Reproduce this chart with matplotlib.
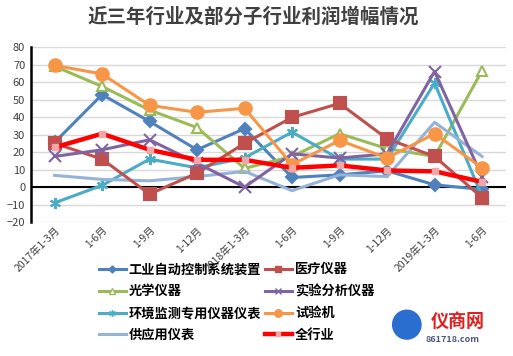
import matplotlib.pyplot as plt
from matplotlib.lines import Line2D
from matplotlib.patches import Ellipse

plt.rcParams['font.family'] = ['Noto Sans CJK SC', 'DejaVu Sans']

categories = ['2017年1-3月', '1-6月', '1-9月', '1-12月', '2018年1-3月',
              '1-6月', '1-9月', '1-12月', '2019年1-3月', '1-6月']

auto_ctrl = [25.5, 52.8, 37.5, 21.3, 33.4, 5.5, 7, 9.3, 1.3, -1.3]
medical = [25, 16, -4, 8, 25, 39.8, 47.8, 27.6, 17.5, -6]
optical = [69, 57.5, 44, 34, 10.7, 17.5, 30.5, 22, 17.5, 66.5]
lab = [17.5, 21.3, 27, 13.7, 0, 19, 16.6, 19, 66, 6]
environ = [-9, 1, 16, 11, 16.7, 31.4, 16, 16, 59.4, -5.3]
testing = [69.5, 64.6, 46.7, 42.7, 45, 12.8, 26.7, 16.6, 30.5, 11]
supply = [6.7, 4.4, 3.6, 6, 9, -2, 7, 6, 37, 17.5]
industry = [22.7, 30.5, 21.3, 15.6, 15.6, 11, 12.4, 9.5, 9, 3]

series = [
    ('工业自动控制系统装置', auto_ctrl, '#4F81BD', 'D', 6, '#4F81BD'),
    ('光学仪器', optical, '#9BBB59', '^', 7, 'white'),
    ('环境监测专用仪器仪表', environ, '#4BACC6', (6, 2, 0), 8, '#4BACC6'),
    ('供应用仪表', supply, '#95B3D7', None, 0, None),
    ('医疗仪器', medical, '#C0504D', 's', 8, '#C0504D'),
    ('实验分析仪器', lab, '#8064A2', 'x', 8, '#8064A2'),
    ('试验机', testing, '#F79646', 'o', 9, '#F79646'),
]

fig = plt.figure(figsize=(5.13, 3.56), dpi=100)
ax = fig.add_axes([0.060, 0.376, 0.926, 0.492])
x = list(range(len(categories)))

handles = []
for name, vals, color, marker, ms, mfc in series:
    ax.plot(x, vals, color=color, lw=2.2, marker=marker, markersize=ms,
            markerfacecolor=mfc, markeredgecolor=color, markeredgewidth=1.5, zorder=3)
    # smaller markers in the legend, like the original
    handles.append(Line2D([], [], color=color, lw=2.2, marker=marker, markersize=ms * 0.6,
                          markerfacecolor=mfc, markeredgecolor=color,
                          markeredgewidth=1.0, label=name))

ax.plot(x, industry, color='#FF0000', lw=3.2, marker='s', markersize=4,
        markerfacecolor='#F4A6A6', markeredgecolor='#F4A6A6', zorder=4)
handles.append(Line2D([], [], color='#FF0000', lw=3.2, marker='s', markersize=3,
                      markerfacecolor='#F4A6A6', markeredgecolor='#F4A6A6', label='全行业'))

ax.set_xlim(-0.5, 9.5)
ax.set_ylim(-20, 80)
ax.set_yticks(range(-20, 81, 10))
ax.grid(axis='y', color='#D9D9D9', lw=1)
ax.set_axisbelow(True)
ax.axhline(0, color='black', lw=1.5, zorder=2)
for s in ['top', 'right', 'bottom']:
    ax.spines[s].set_visible(False)
ax.spines['left'].set_linewidth(1.8)
ax.tick_params(axis='y', length=0, labelsize=8, labelcolor='#404040', pad=4)
ax.tick_params(axis='x', length=0, labelsize=7.5, labelcolor='#404040', pad=2)
ax.set_xticks(x)
ax.set_xticklabels(categories, rotation=45, ha='right', rotation_mode='anchor')

fig.text(0.493, 0.952, '近三年行业及部分子行业利润增幅情况', ha='center', va='center',
         fontsize=14, fontweight='bold', color='#404040')

fig.legend(handles=handles, loc='upper left', bbox_to_anchor=(0.183, 0.278),
           ncol=2, frameon=False, prop={'size': 9.5, 'weight': 'bold'},
           handlelength=2.0, columnspacing=0.3, labelspacing=0.6,
           handletextpad=0.25, borderaxespad=0)

# watermark logo
fig.patches.append(Ellipse((0.793, 0.088), 0.058, 0.085, transform=fig.transFigure,
                           facecolor='#2A6FD0', edgecolor='none'))
fig.text(0.893, 0.098, '仪商网', ha='center', va='center', fontsize=13,
         fontweight='bold', color='#E02020')
fig.text(0.883, 0.045, '861718.com', ha='center', va='center', fontsize=6.5,
         fontweight='bold', color='#4A5A80')

fig.savefig('out.png', dpi=100)
